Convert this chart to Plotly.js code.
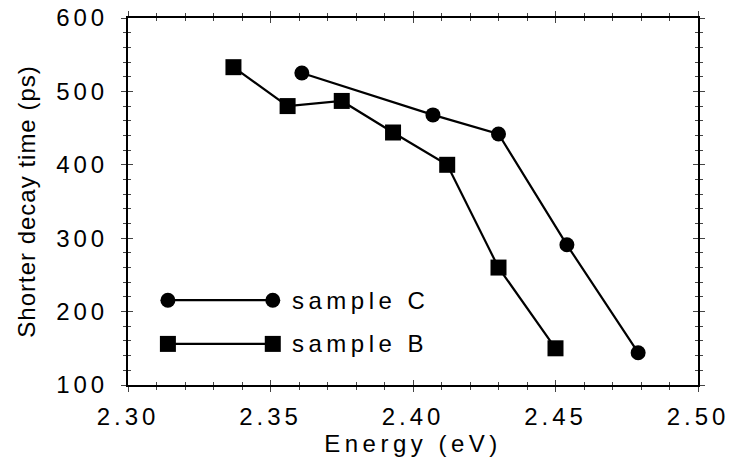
<!DOCTYPE html>
<html>
<head>
<meta charset="utf-8">
<script src="https://cdn.plot.ly/plotly-3.0.1.min.js"></script>
<style>
  html, body { margin: 0; padding: 0; background: #fff; }
  #chart { width: 731px; height: 459px; }
  .xtick text, .ytick text { letter-spacing: 4px; }
  .g-xtitle text { letter-spacing: 4.5px; }
  .g-ytitle text { letter-spacing: 1px; }
  .annotation-text { letter-spacing: 4.5px; }
</style>
</head>
<body>
<div id="chart"></div>
<script>
// ---- data ----
const energyB = [2.337, 2.356, 2.375, 2.393, 2.412, 2.430, 2.450];
const decayB  = [533, 480, 487, 444, 400, 260, 150];
const energyC = [2.361, 2.407, 2.430, 2.454, 2.479];
const decayC  = [525, 468, 442, 291, 144];
const seriesNames = ['sample C', 'sample B'];
const xRange = [2.30, 2.50];
const yRange = [100, 600];

// ---- legend layout (paper-fraction positions, not data) ----
const legendLineX = [0.070, 0.254];
const legendRowY = [0.231, 0.112];
const legendTextX = 0.284;

const font = 'Liberation Sans, Arial, sans-serif';
const lineStyle = {color: '#000', width: 2.2};
const circleMarker = {symbol: 'circle', size: 15, color: '#000'};
const squareMarker = {symbol: 'square', size: 16, color: '#000'};

const traces = [
  {x: energyC, y: decayC, mode: 'lines+markers', line: lineStyle, marker: circleMarker, name: seriesNames[0], showlegend: false},
  {x: energyB, y: decayB, mode: 'lines+markers', line: lineStyle, marker: squareMarker, name: seriesNames[1], showlegend: false},
  // dummy trace so the overlay tick axes are drawn
  {x: [], y: [], xaxis: 'x2', yaxis: 'y2', showlegend: false, hoverinfo: 'skip'},
  // legend samples
  {x: legendLineX, y: [legendRowY[0], legendRowY[0]], xaxis: 'x3', yaxis: 'y3', mode: 'lines+markers',
   line: lineStyle, marker: circleMarker, showlegend: false, hoverinfo: 'skip'},
  {x: legendLineX, y: [legendRowY[1], legendRowY[1]], xaxis: 'x3', yaxis: 'y3', mode: 'lines+markers',
   line: lineStyle, marker: squareMarker, showlegend: false, hoverinfo: 'skip'}
];

const baseX = {
  range: xRange, showgrid: false, zeroline: false, linecolor: '#000', linewidth: 2,
  tickcolor: '#444', tickwidth: 1, dtick: 0.05, tick0: 2.30, tickformat: '.2f',
  mirror: 'ticks', fixedrange: true
};
const baseY = {
  range: yRange, showgrid: false, zeroline: false, linecolor: '#000', linewidth: 2,
  tickcolor: '#444', tickwidth: 1, dtick: 100, tick0: 100,
  mirror: 'ticks', fixedrange: true
};

const layout = {
  width: 731, height: 459,
  margin: {l: 128, r: 33, t: 18, b: 74},
  paper_bgcolor: '#fff', plot_bgcolor: '#fff',
  showlegend: false,
  font: {family: font, color: '#000'},
  xaxis: Object.assign({}, baseX, {
    ticks: 'outside', ticklen: 5,
    minor: {dtick: 0.01, ticks: 'outside', ticklen: 3, tickcolor: '#444', tickwidth: 1},
    tickfont: {family: font, size: 24, color: '#000'},
    ticklabelstandoff: 4,
    title: {text: 'Energy (eV)', font: {family: font, size: 24, color: '#000'}, standoff: 5}
  }),
  yaxis: Object.assign({}, baseY, {
    ticks: 'outside', ticklen: 5,
    minor: {dtick: 20, ticks: 'outside', ticklen: 3, tickcolor: '#444', tickwidth: 1},
    tickfont: {family: font, size: 24, color: '#000'},
    ticklabelstandoff: 8,
    title: {text: 'Shorter decay time (ps)', font: {family: font, size: 24, color: '#000'}, standoff: 14}
  }),
  xaxis2: Object.assign({}, baseX, {
    overlaying: 'x', anchor: 'y2', showticklabels: false,
    ticks: 'inside', ticklen: 5,
    minor: {dtick: 0.01, ticks: 'inside', ticklen: 3, tickcolor: '#444', tickwidth: 1}
  }),
  yaxis2: Object.assign({}, baseY, {
    overlaying: 'y', anchor: 'x2', showticklabels: false,
    ticks: 'inside', ticklen: 5,
    minor: {dtick: 20, ticks: 'inside', ticklen: 3, tickcolor: '#444', tickwidth: 1}
  }),
  xaxis3: {overlaying: 'x', anchor: 'y3', range: [0, 1], visible: false, fixedrange: true},
  yaxis3: {overlaying: 'y', anchor: 'x3', range: [0, 1], visible: false, fixedrange: true},
  annotations: seriesNames.map((name, i) => ({
    xref: 'paper', yref: 'paper', x: legendTextX, y: legendRowY[i],
    xanchor: 'left', yanchor: 'middle', text: name, showarrow: false,
    font: {family: font, size: 24, color: '#000'}
  }))
};

Plotly.newPlot('chart', traces, layout, {displayModeBar: false, staticPlot: true});
</script>
</body>
</html>
